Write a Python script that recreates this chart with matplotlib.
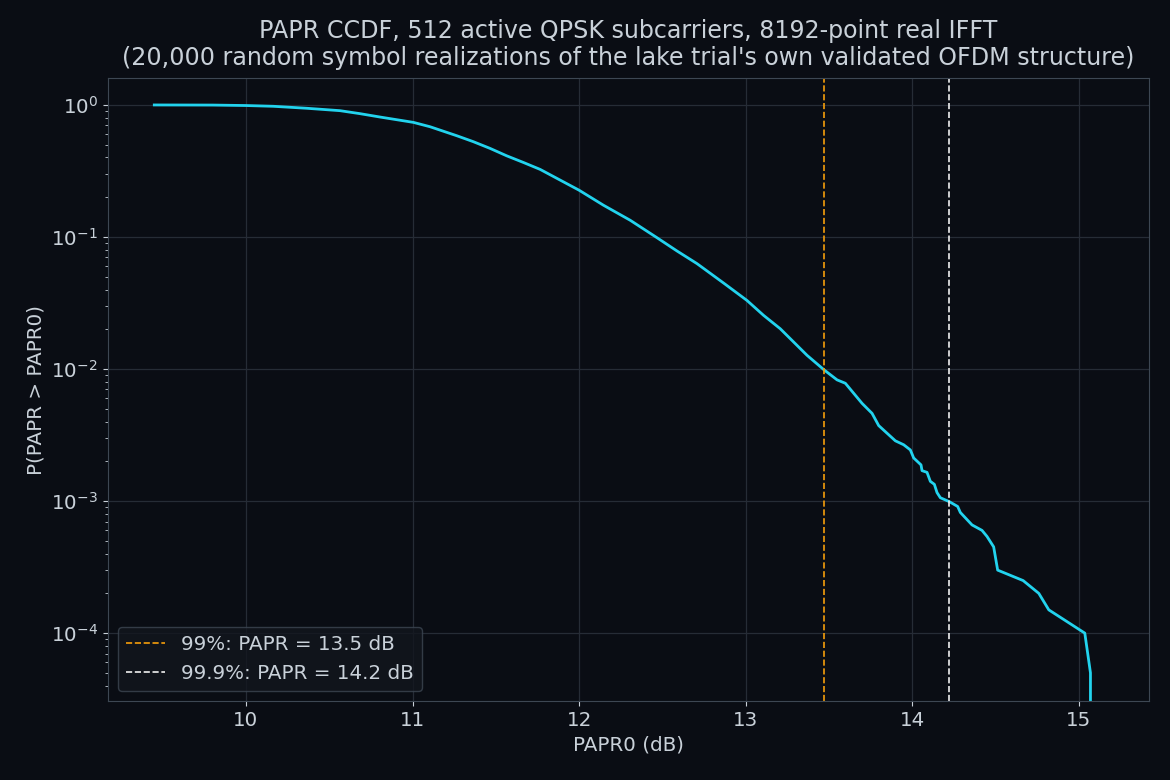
import numpy as np
import matplotlib
matplotlib.use("Agg")
import matplotlib.pyplot as plt

# CCDF
papr_db = [9.45, 9.8, 10.0, 10.164, 10.364, 10.565, 10.685, 10.805, 11.005, 11.105,
           11.265, 11.365, 11.465, 11.565, 11.665, 11.766, 12.0, 12.146, 12.306, 12.466,
           12.587, 12.707, 12.867, 13.007, 13.107, 13.207, 13.368, 13.47, 13.548, 13.598,
           13.698, 13.758, 13.798, 13.898, 13.948, 13.988, 14.008, 14.052, 14.058, 14.088,
           14.108, 14.132, 14.148, 14.168, 14.222, 14.272, 14.288, 14.358, 14.418, 14.448,
           14.488, 14.512, 14.665, 14.759, 14.819, 15.035, 15.069, 15.07]
ccdf = [1.0, 0.998, 0.99, 0.977, 0.944, 0.905, 0.859, 0.81, 0.738, 0.684,
        0.585, 0.527, 0.469, 0.412, 0.367, 0.325, 0.226, 0.174, 0.134, 0.099,
        0.0784, 0.0629, 0.0448, 0.0331, 0.0255, 0.0202, 0.0127, 0.00986, 0.00828, 0.0078,
        0.0055, 0.00462, 0.00373, 0.00286, 0.00267, 0.00244, 0.00212, 0.00188, 0.0017, 0.00165,
        0.00141, 0.00134, 0.00116, 0.00106, 0.00099, 0.00091, 0.00082, 0.00066, 0.0006, 0.00054,
        0.00045, 0.0003, 0.00025, 0.0002, 0.00015, 0.0001, 0.00005, 0.0]

p99 = 13.47
p999 = 14.22

bg = "#0a0d14"
fg = "#c9d1d9"
grid_c = "#262c36"
spine_c = "#3d4753"

fig, ax = plt.subplots(figsize=(11.7, 7.8), dpi=100)
fig.patch.set_facecolor(bg)
ax.set_facecolor(bg)

ax.semilogy(papr_db, ccdf, color="#22d3ee", lw=2)
ax.axvline(p99, color="#f59e0b", ls="--", lw=1.2, label="99%: PAPR = 13.5 dB")
ax.axvline(p999, color="#f0f0f0", ls="--", lw=1.2, label="99.9%: PAPR = 14.2 dB")

ax.set_xlim(9.17, 15.42)
ax.set_ylim(3.05e-5, 1.6)
ax.grid(True, which="major", color=grid_c, lw=0.9)
for s in ax.spines.values():
    s.set_color(spine_c)
ax.tick_params(colors=fg, which="both", labelsize=14.3)

ax.set_xlabel("PAPR0 (dB)", color=fg, fontsize=14.3)
ax.set_ylabel("P(PAPR > PAPR0)", color=fg, fontsize=14.3)
ax.set_title("PAPR CCDF, 512 active QPSK subcarriers, 8192-point real IFFT\n"
             "(20,000 random symbol realizations of the lake trial's own validated OFDM structure)",
             color=fg, fontsize=17.1, pad=9)

leg = ax.legend(loc="lower left", fontsize=14.3, facecolor="#12161e", edgecolor=spine_c,
                labelcolor=fg)

plt.subplots_adjust(left=0.092, right=0.982, top=0.9, bottom=0.101)
plt.savefig("out.png", facecolor=bg)
